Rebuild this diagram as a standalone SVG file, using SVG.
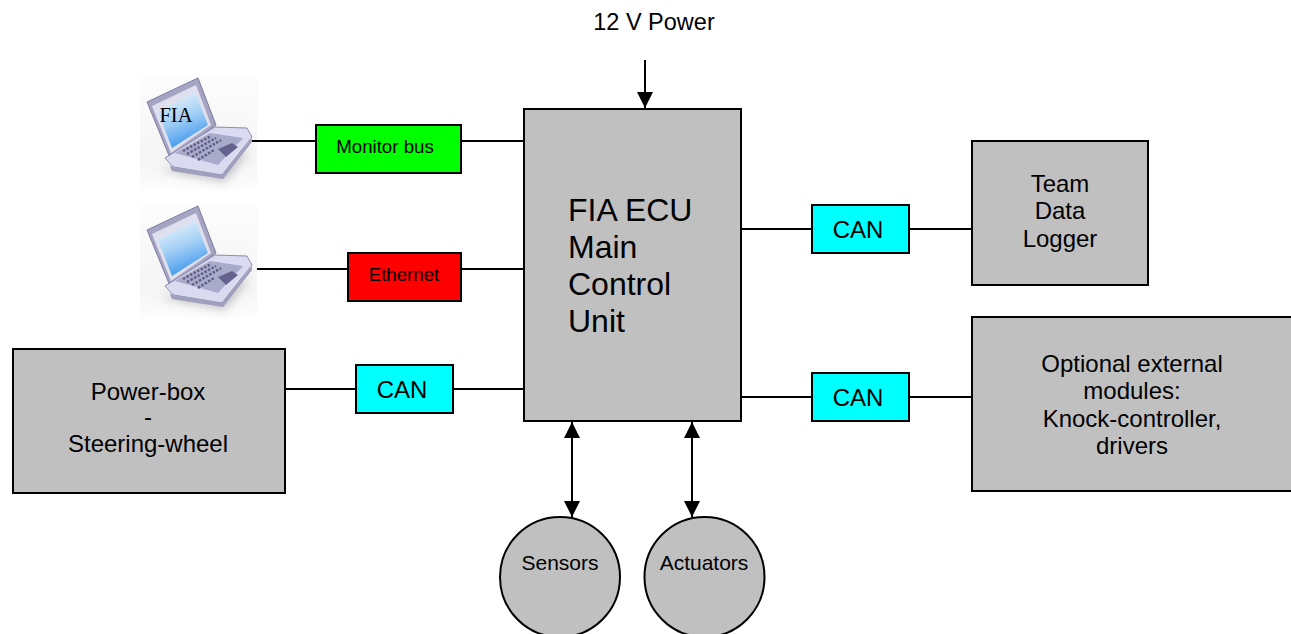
<svg xmlns="http://www.w3.org/2000/svg" width="1291" height="634" viewBox="0 0 1291 634">
<style>
text{font-family:"Liberation Sans",Arial,sans-serif;fill:#000;text-anchor:middle}
.n{stroke:#000;stroke-width:2}
.g{fill:#c0c0c0}
.c{fill:#00ffff}
.l{stroke:#000;stroke-width:2;fill:none}
.s{font-size:18.700px}
.m{font-size:24px}
.t{font-size:24px}
.r{font-size:21px}
.b{font-size:32px;text-anchor:start}
.k{stroke:#5f5f88;stroke-width:2.500;stroke-dasharray:2.500 1.500;fill:none}
</style>
<defs>
<marker id="a" markerUnits="userSpaceOnUse" markerWidth="16" markerHeight="16" refX="16" refY="8" orient="auto-start-reverse" viewBox="0 0 16 16"><path d="M0 0L16 8L0 16Z" fill="#000"/></marker>
<linearGradient id="sc" x1="0.2" y1="0" x2="0.55" y2="1"><stop offset="0" stop-color="#eef6fc"/><stop offset="0.5" stop-color="#a4d0f5"/><stop offset="1" stop-color="#3a94ee"/></linearGradient>
<linearGradient id="bg" x1="0" y1="0" x2="0" y2="1"><stop offset="0" stop-color="#fcfcfc"/><stop offset="0.75" stop-color="#f5f5f5"/><stop offset="1" stop-color="#fdfdfd"/></linearGradient>
<filter id="bl" x="-10%" y="-10%" width="120%" height="120%"><feGaussianBlur stdDeviation="0.6"/></filter>
<filter id="sh" x="-30%" y="-30%" width="160%" height="160%"><feGaussianBlur stdDeviation="5"/></filter>
<g id="laptop">
<rect x="140" y="78" width="117" height="112" fill="url(#bg)"/>
<path d="M160 170L225 182L250 150Z" fill="#c4c4c8" filter="url(#sh)"/>
<g filter="url(#bl)">
<path d="M147 102L198 78L216 125L170 158Z" fill="#a5a4c2" stroke="#7c7ba0"/>
<path d="M152 106L196 85L211 125L171 153Z" fill="#dfdfee"/>
<path d="M158 112L195 92L208 125L172 148Z" fill="url(#sc)"/>
<path d="M165 158L215 127L247 128L252 137L222 175L173 167Z" fill="#dadaf0" stroke="#8d8cac"/>
<path d="M175 153L210 133L243 138L218 165Z" fill="#aaaacb"/>
<path d="M183 151L211 136M187 154L216 138M192 157L221 140M198 160L214 150" class="k"/>
<path d="M218 149L232 143L238 147L226 157Z" fill="#64648e"/>
<path d="M170 166L222 175L252 138L252 142L223 179L172 171Z" fill="#a0a0be"/>
</g>
</g>
</defs>

<g id="power-label"><text x="654" y="30" font-size="23.500">12 V Power</text></g>

<g id="laptop-fia"><use href="#laptop"/><text x="176" y="122" font-size="20.500" style="font-family:'Liberation Serif',serif">FIA</text></g>
<g id="laptop-2"><use href="#laptop" y="128"/></g>

<g id="monitor-bus"><rect class="n" x="316" y="125" width="145" height="48" fill="#00ff00"/><text class="s" x="385" y="153">Monitor bus</text></g>
<g id="ethernet"><rect class="n" x="348" y="253" width="113" height="48" fill="#ff0000"/><text class="s" x="404" y="281">Ethernet</text></g>
<g id="can-left"><rect class="n c" x="356" y="365" width="97" height="48"/><text class="m" x="402" y="398">CAN</text></g>

<g id="powerbox"><rect class="n g" x="13" y="349" width="272" height="144"/>
<text class="t" x="148" y="400">Power-box</text><text class="t" x="148" y="425">-</text><text class="t" x="148" y="452">Steering-wheel</text></g>

<g id="ecu"><rect class="n g" x="524" y="109" width="217" height="312"/>
<text class="b" x="568" y="221">FIA ECU</text><text class="b" x="568" y="258">Main</text><text class="b" x="568" y="295">Control</text><text class="b" x="568" y="332">Unit</text></g>

<g id="can-top"><rect class="n c" x="812" y="205" width="97" height="48"/><text class="m" x="858" y="238">CAN</text></g>
<g id="can-bottom"><rect class="n c" x="812" y="373" width="97" height="48"/><text class="m" x="858" y="406">CAN</text></g>

<g id="logger"><rect class="n g" x="972" y="141" width="176" height="144"/>
<text class="t" x="1060" y="192">Team</text><text class="t" x="1060" y="219">Data</text><text class="t" x="1060" y="247">Logger</text></g>

<g id="optional"><rect class="n g" x="972" y="317" width="320" height="174"/>
<text class="t" x="1132" y="372">Optional external</text><text class="t" x="1132" y="399">modules:</text><text class="t" x="1132" y="427">Knock-controller,</text><text class="t" x="1132" y="454">drivers</text></g>

<g id="sensors"><circle class="n g" cx="560" cy="577" r="60"/><text class="r" x="560" y="570">Sensors</text></g>
<g id="actuators"><circle class="n g" cx="704.500" cy="577" r="60"/><text class="r" x="704" y="570">Actuators</text></g>

<g id="connectors">
<path class="l" d="M645 60V108" marker-end="url(#a)"/>
<path class="l" d="M252 141H316M461 141H524"/>
<path class="l" d="M257 269H348M461 269H524"/>
<path class="l" d="M285 389H356M453 389H524"/>
<path class="l" d="M741 229H812M909 229H972"/>
<path class="l" d="M741 397H812M909 397H972"/>
<path class="l" d="M572 422V517" marker-start="url(#a)" marker-end="url(#a)"/>
<path class="l" d="M692 422V517" marker-start="url(#a)" marker-end="url(#a)"/>
</g>
</svg>
